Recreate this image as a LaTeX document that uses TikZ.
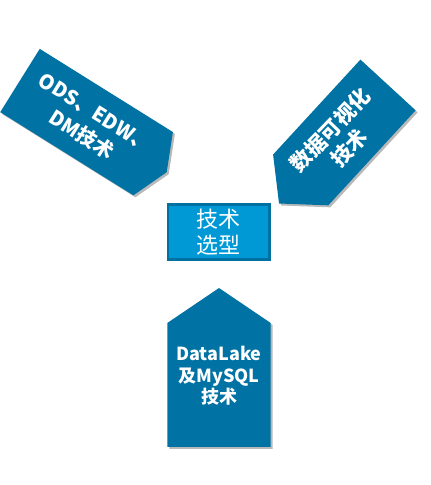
\documentclass[tikz,border=0pt]{standalone}
\usepackage{fontspec}
\setmainfont{Noto Sans CJK SC}
\definecolor{arrowblue}{RGB}{0,114,163}
\definecolor{boxblue}{RGB}{0,153,214}
\definecolor{boxedge}{RGB}{0,112,160}
\definecolor{shadowgray}{RGB}{185,185,185}

\begin{document}
\begin{tikzpicture}[
    x=1pt, y=1pt,
    blocklabel/.style={
        text=white,
        align=center,
        inner sep=0pt,
        font=\bfseries\fontsize{20}{26}\selectfont
    },
    selectbox/.style={
        draw=boxedge,
        fill=boxblue,
        line width=2.5pt,
        minimum width=101.5pt,
        minimum height=55pt,
        text=white,
        align=center,
        font=\fontsize{22}{26}\selectfont
    }
]
\useasboundingbox (0,0) rectangle (431,485);

% =================== Left arrow: ODS, EDW, DM ===================
\begin{scope}[shift={(20,404.5)}]
    \fill[shadowgray, xshift=2pt, yshift=-2pt, rotate=-32]
        (0,37.3) -- (157,37.3) -- (173,0) -- (157,-37.3) -- (0,-37.3) -- cycle;
    \fill[arrowblue, rotate=-32]
        (0,37.3) -- (157,37.3) -- (173,0) -- (157,-37.3) -- (0,-37.3) -- cycle;
\end{scope}
\node[blocklabel, rotate=-32] (odsedw) at (88,361) {ODS、EDW、\\DM技术};

% =================== Right arrow: visualisation ===================
\begin{scope}[shift={(388,400)}]
    \fill[shadowgray, xshift=2pt, yshift=-2pt, rotate=227.4]
        (0,37.5) -- (129,37.5) -- (161,0) -- (129,-37.5) -- (0,-37.5) -- cycle;
    \fill[arrowblue, rotate=227.4]
        (0,37.5) -- (129,37.5) -- (161,0) -- (129,-37.5) -- (0,-37.5) -- cycle;
\end{scope}
\node[blocklabel, font=\bfseries\fontsize{21}{26}\selectfont, rotate=46]
    (visual) at (339.5,346) {数据可视化\\技术};

% =================== Bottom arrow: DataLake ===================
\begin{scope}[shift={(219,38)}]
    \fill[shadowgray, xshift=2pt, yshift=-2pt, rotate=90]
        (0,51.7) -- (124,51.7) -- (159,0) -- (124,-51.7) -- (0,-51.7) -- cycle;
    \fill[arrowblue, rotate=90]
        (0,51.7) -- (124,51.7) -- (159,0) -- (124,-51.7) -- (0,-51.7) -- cycle;
\end{scope}
\node[blocklabel, font=\bfseries\fontsize{18}{21.5}\selectfont]
    (datalake) at (219,109) {DataLake\\及MySQL\\技术};

% =================== Centre box ===================
\node[selectbox] (select) at (218.7,253) {技术\\选型};

\end{tikzpicture}
\end{document}
